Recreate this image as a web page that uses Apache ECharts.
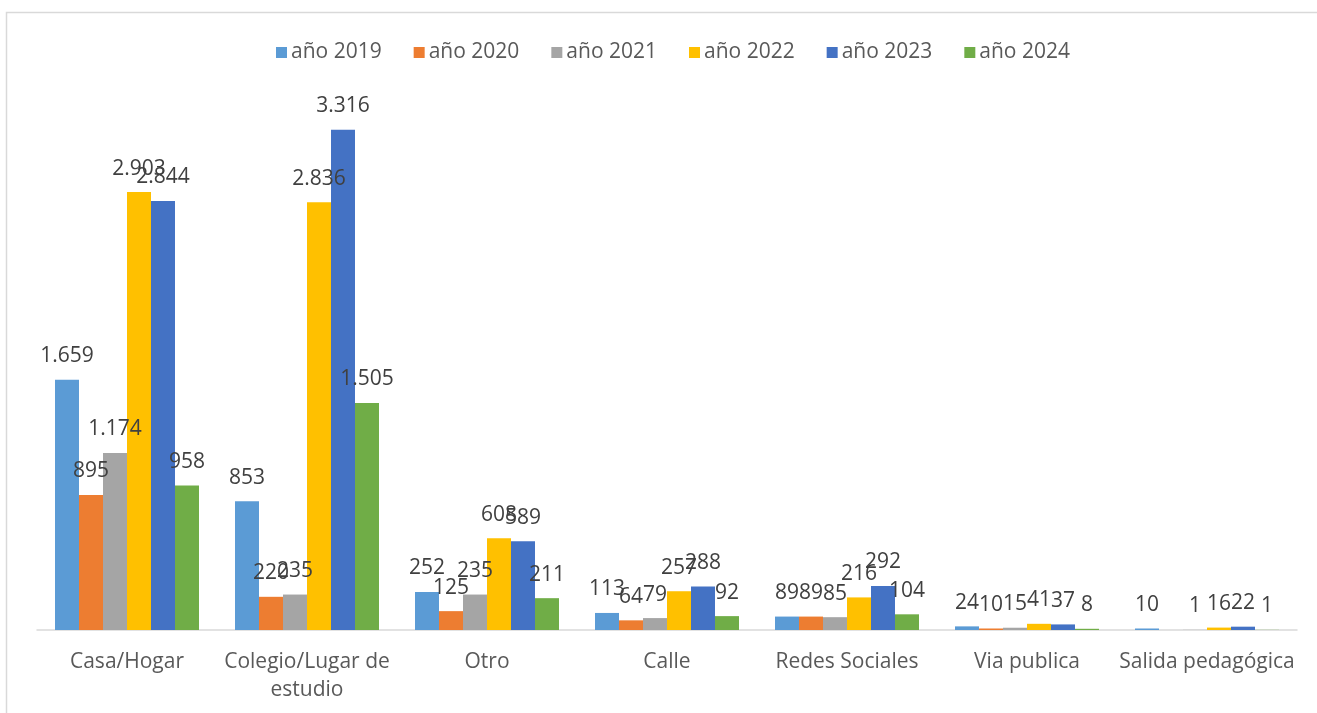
<!DOCTYPE html>
<html>
<head>
<meta charset="utf-8">
<script src="https://cdn.jsdelivr.net/npm/echarts@6/dist/echarts.min.js"></script>
<style>
html,body{margin:0;padding:0;background:#fff;}
#chart{width:1317px;height:713px;}
</style>
</head>
<body>
<div id="chart"></div>
<script>
const categories = ['Casa/Hogar', 'Colegio/Lugar de\nestudio', 'Otro', 'Calle', 'Redes Sociales', 'Via publica', 'Salida pedagógica'];
const seriesNames = ['año 2019', 'año 2020', 'año 2021', 'año 2022', 'año 2023', 'año 2024'];
const y2019 = [1659, 853, 252, 113, 89, 24, 10];
const y2020 = [895, 220, 125, 64, 89, 10, null];
const y2021 = [1174, 235, 235, 79, 85, 15, 1];
const y2022 = [2903, 2836, 608, 257, 216, 41, 16];
const y2023 = [2844, 3316, 589, 288, 292, 37, 22];
const y2024 = [958, 1505, 211, 92, 104, 8, 1];
const colors = ['#5B9BD5', '#ED7D31', '#A5A5A5', '#FFC000', '#4472C4', '#70AD47'];
const allData = [y2019, y2020, y2021, y2022, y2023, y2024];

const fontFamily = '"Open Sans", "Noto Sans", sans-serif';

const chart = echarts.init(document.getElementById('chart'));
chart.setOption({
  backgroundColor: '#fff',
  animation: false,
  textStyle: { fontFamily: fontFamily },
  graphic: [{
    type: 'rect',
    shape: { x: 6.5, y: 12.5, width: 1330, height: 720 },
    style: { fill: 'none', stroke: '#d9d9d9', lineWidth: 1.5 },
    silent: true
  }],
  legend: {
    top: 37,
    left: 271,
    itemWidth: 11,
    itemHeight: 11,
    itemGap: 32,
    icon: 'rect',
    textStyle: { fontSize: 21, color: '#595959', fontFamily: fontFamily, padding: [0, 0, 0, -1] },
    data: seriesNames
  },
  grid: { left: 37, right: 20, top: 102, bottom: 83, containLabel: false },
  xAxis: {
    type: 'category',
    data: categories,
    axisLine: { lineStyle: { color: '#d9d9d9', width: 1.5 } },
    axisTick: { show: false },
    axisLabel: { fontSize: 21, color: '#595959', margin: 18, lineHeight: 28, fontFamily: fontFamily, interval: 0 }
  },
  yAxis: {
    type: 'value',
    min: 0,
    max: 3500,
    show: false,
    splitLine: { show: false }
  },
  series: allData.map((d, i) => ({
    name: seriesNames[i],
    type: 'bar',
    data: d,
    barGap: '0%',
    barCategoryGap: '20%',
    itemStyle: { color: colors[i] },
    label: {
      show: true,
      position: 'top',
      distance: 13,
      fontSize: 21,
      color: '#404040',
      fontFamily: fontFamily,
      formatter: p => p.value == null ? '' : p.value.toLocaleString('de-DE')
    }
  }))
});
</script>
</body>
</html>
